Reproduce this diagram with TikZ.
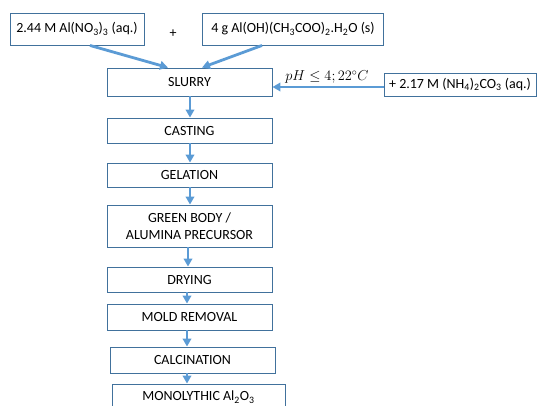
\documentclass[tikz,border=0pt]{standalone}
\usepackage{fontspec}
\setmainfont{Carlito}
\usetikzlibrary{arrows.meta,calc}
\definecolor{boxblue}{HTML}{41719C}
\definecolor{arrblue}{HTML}{5B9BD5}
\tikzset{
  txt/.style={font=\fontsize{14}{17}\selectfont},
  box/.style={draw=boxblue,line width=0.9pt,fill=white,minimum height=#1,inner sep=2pt,align=center,txt},
  box/.default=25pt,
  arr/.style={draw=arrblue,line width=2.8pt,-{Triangle[length=8pt,width=8.5pt]}}
}
\begin{document}
\begin{tikzpicture}[x=1pt,y=-1pt]
\useasboundingbox (0,0) rectangle (537,405);
\clip (0,0) rectangle (537,405);
\node[box=32pt,minimum width=134pt] (b1) at (77,29) {2.44 M Al(NO\textsubscript{3})\textsubscript{3} (aq.)};
\node[box=32pt,minimum width=181pt] (b2) at (293,29) {4 g Al(OH)(CH\textsubscript{3}COO)\textsubscript{2}.H\textsubscript{2}O (s)};
\node[txt] (plus) at (173,34) {+};
\node[box=28pt,minimum width=165pt] (slurry) at (189.5,82) {SLURRY};
\node[box=23pt,minimum width=152pt] (rb) at (460,84.5) {+ 2.17 M (NH\textsubscript{4})\textsubscript{2}CO\textsubscript{3} (aq.)};
\node[txt] (lbl) at (327,77) {$pH \leq 4; 22^\circ C$};
\node[box=25pt,minimum width=165pt] (cast) at (189.5,130.5) {CASTING};
\node[box=24pt,minimum width=165pt] (gel) at (189.5,175) {GELATION};
\node[box=42pt,minimum width=165pt] (green) at (189.5,226) {GREEN BODY /\\ALUMINA PRECURSOR};
\node[box=25pt,minimum width=165pt] (dry) at (189.5,279.5) {DRYING};
\node[box=26pt,minimum width=165pt] (mold) at (189.5,317) {MOLD REMOVAL};
\node[box=26pt,minimum width=165pt] (calc) at (192.5,360) {CALCINATION};
\node[box=34pt,minimum width=173pt,text depth=10pt] (mono) at (198.5,401) {MONOLYTHIC Al\textsubscript{2}O\textsubscript{3}};
\draw[arr] ([xshift=13pt]b1.south) -- ([xshift=-21.5pt]slurry.north);
\draw[arr] ([xshift=-31pt]b2.south) -- ([xshift=12.5pt]slurry.north);
\draw[arr] ([yshift=-2.5pt]rb.west) -- ([yshift=-5pt]slurry.east);
\draw[arr] ([xshift=0.5pt]slurry.south) -- ([xshift=0.5pt]cast.north);
\draw[arr] ([xshift=0.5pt]cast.south) -- ([xshift=0.5pt]gel.north);
\draw[arr] ([xshift=0.5pt]gel.south) -- ([xshift=0.5pt]green.north);
\draw[arr] ([xshift=-1.5pt]green.south) -- ([xshift=-1.5pt]dry.north);
\draw[arr] ([xshift=-2.5pt]dry.south) -- ([xshift=-2.5pt]mold.north);
\draw[arr] ([xshift=-2.5pt]mold.south) -- ([xshift=-5.5pt]calc.north);
\draw[arr] ([xshift=-5.5pt]calc.south) -- ([xshift=-11.5pt]mono.north);
\end{tikzpicture}
\end{document}
